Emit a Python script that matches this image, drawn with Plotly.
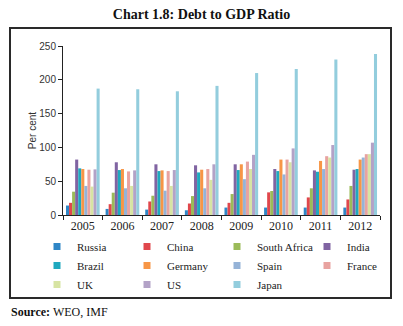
import plotly.graph_objects as go

years = ["2005", "2006", "2007", "2008", "2009", "2010", "2011", "2012"]
countries = ["Russia", "China", "South Africa", "India", "Brazil", "Germany",
             "Spain", "France", "UK", "US", "Japan"]
russia = [14, 9, 8, 7, 11, 11, 11, 11]
china = [18, 16, 20, 17, 18, 33.5, 26, 23]
south_africa = [34.5, 33, 28.5, 28, 31, 35.5, 39.5, 43]
india = [82, 78, 75, 73.5, 75, 68, 66, 67]
brazil = [69, 66.5, 65, 63, 66.5, 65, 64, 68]
germany = [68, 68, 66, 67, 75, 82, 80, 82]
spain = [43, 39.5, 36, 39.5, 53, 60, 68, 85]
france = [67, 64.5, 65, 68, 79, 82, 87, 90]
uk = [42, 43, 43, 52, 68, 78, 85, 90]
us = [67.5, 66, 66.5, 75, 89, 98.5, 103.5, 107]
japan = [187, 186, 183, 191, 210, 216, 230, 238]
series = [russia, china, south_africa, india, brazil, germany, spain, france, uk, us, japan]
colors = ["#2f86c6", "#e0474c", "#9bbb59", "#8064a2", "#1fa9bf", "#f79646",
          "#95b3d7", "#e8a3a0", "#d7e4a3", "#b3a2c7", "#93cddd"]

W, H = 403, 326
L, R, T, B = 63, 23, 46, 111
pw, ph = W - L - R, H - T - B

def px(x):
    return (x - L) / pw

def py(y):
    return (H - B - y) / ph

fig = go.Figure()
for name, vals, col in zip(countries, series, colors):
    fig.add_trace(go.Bar(x=years, y=vals, name=name, marker_color=col,
                         marker_line_width=0, showlegend=False))
for name, col in zip(countries, colors):
    fig.add_trace(go.Scatter(x=[None], y=[None], mode="markers", name=name,
                             marker=dict(symbol="square", size=7, color=col)))

serif = "Liberation Serif"
sans = "Liberation Sans"
fig.update_layout(
    width=W, height=H,
    margin=dict(l=L, r=R, t=T, b=B),
    paper_bgcolor="white", plot_bgcolor="white",
    barmode="group", bargap=0.15, bargroupgap=0,
    title=dict(text="<b>Chart 1.8: Debt to GDP Ratio</b>", x=0.5, xanchor="center",
               y=1 - 14 / H, yanchor="middle", font=dict(family=serif, size=14, color="#111")),
    showlegend=True,
    legend=dict(orientation="h", x=px(37), xanchor="left", y=py(232), yanchor="top",
                entrywidth=45, entrywidthmode="pixels", itemwidth=30,
                font=dict(family=serif, size=11, color="#222"),
                bgcolor="rgba(0,0,0,0)", borderwidth=0, tracegroupgap=0),
    xaxis=dict(type="category", showline=True, linecolor="#222", linewidth=1,
               ticks="outside", tickson="boundaries", ticklen=4, tickcolor="#222",
               showgrid=False, tickfont=dict(family=serif, size=12, color="#222")),
    yaxis=dict(range=[0, 250], tickvals=[0, 50, 100, 150, 200, 250], showline=True,
               linecolor="#222", linewidth=1, ticks="outside", ticklen=4, tickcolor="#222",
               showgrid=False, zeroline=False,
               tickfont=dict(family=sans, size=10, color="#333"),
               title=dict(text="Per cent", font=dict(family=sans, size=10, color="#333"), standoff=0)),
    shapes=[dict(type="rect", xref="paper", yref="paper",
                 x0=px(10), x1=px(391), y0=py(298), y1=py(28),
                 line=dict(color="#2a2a2a", width=2), fillcolor="rgba(0,0,0,0)", layer="below")],
    annotations=[dict(text="<b>Source:</b> WEO, IMF", xref="paper", yref="paper",
                      x=px(9), y=py(312), xanchor="left", yanchor="middle", showarrow=False,
                      font=dict(family=serif, size=12, color="#111"))],
)

fig.write_html("out.html")
